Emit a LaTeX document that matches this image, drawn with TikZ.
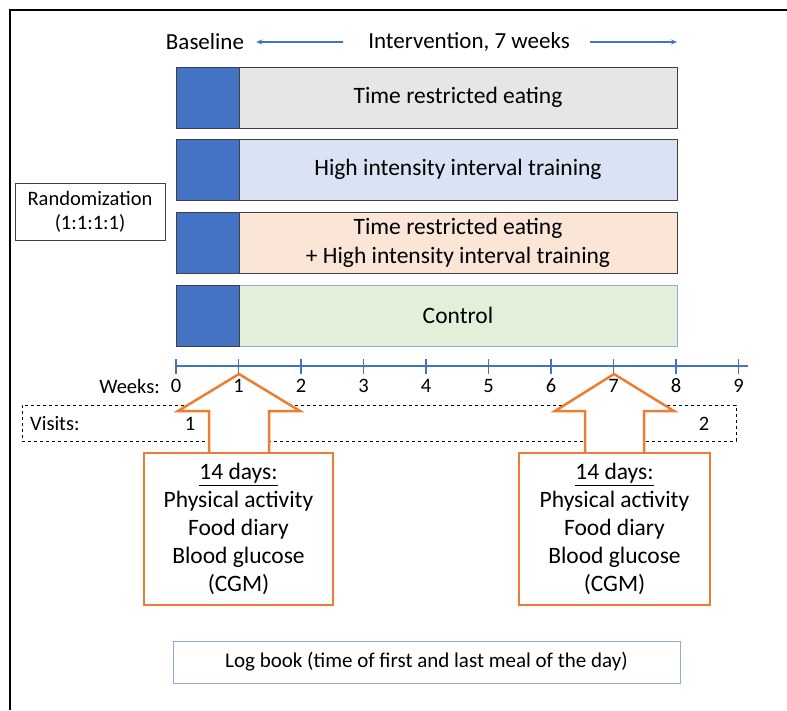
\documentclass[tikz,border=0pt]{standalone}
\usepackage{fontspec}
\setmainfont{Carlito}
\usetikzlibrary{arrows.meta}
\definecolor{accblue}{HTML}{4472C4}
\definecolor{grayfill}{HTML}{E7E6E6}
\definecolor{bluefill}{HTML}{DAE3F3}
\definecolor{peachfill}{HTML}{FBE5D6}
\definecolor{greenfill}{HTML}{E2F0D9}
\definecolor{orng}{HTML}{ED7D31}
\definecolor{lightedge}{HTML}{8FAADC}
\definecolor{darkedge}{HTML}{404040}
\begin{document}
\begin{tikzpicture}[x=1pt,y=-1pt,
  every node/.style={font=\fontsize{23.5}{29}\selectfont, text=black},
  rowbox/.style={draw=darkedge, line width=1pt, minimum width=438pt, minimum height=61pt, anchor=north west, inner sep=0pt, outer sep=0pt, align=center},
  bluesq/.style={draw=darkedge, fill=accblue, line width=1pt, minimum width=63pt, minimum height=61pt, anchor=north east, inner sep=0pt, outer sep=0pt},
  toplabel/.style={inner sep=0pt, font=\fontsize{23}{28}\selectfont},
  bluearrow/.style={draw=accblue, line width=1.2pt, -{Stealth[length=6pt,width=5pt]}},
  orangebox/.style={draw=orng, line width=2.5pt, fill=white, minimum height=152pt, align=center, inner sep=0pt, font=\fontsize{23.5}{28}\selectfont},
  oarrow/.style={draw=orng, line width=2.5pt, fill=white, line join=miter},
  smalltxt/.style={font=\fontsize{20.5}{24}\selectfont, inner sep=0pt}
]
\useasboundingbox (0,0) rectangle (787,710);
\draw[line width=2pt] (10,710) -- (10,10) -- (787,10);

% top labels
\node[toplabel, anchor=center] (base) at (205,42) {Baseline};
\node[toplabel, anchor=center] (interv) at (469,42) {Intervention, 7 weeks};

% rows
\node[rowbox, fill=grayfill] (r1) at (239,67) {Time restricted eating};
\node[rowbox, fill=bluefill] (r2) at (239,139) {High intensity interval training};
\node[rowbox, fill=peachfill] (r3) at (239,212) {Time restricted eating\\+ High intensity interval training};
\node[rowbox, fill=greenfill, draw=lightedge] (r4) at (239,285) {Control};
\node[bluesq] (b1) at (r1.north west) {};
\node[bluesq] (b2) at (r2.north west) {};
\node[bluesq] (b3) at (r3.north west) {};
\node[bluesq] (b4) at (r4.north west) {};

\draw[bluearrow] ([xshift=-25pt]interv.west) -- ([xshift=12pt]base.east);
\draw[bluearrow] ([xshift=20pt]interv.east) -- (interv.east -| r1.east);

% randomization
\node[draw=darkedge, line width=0.8pt, minimum width=150pt, minimum height=57pt, align=center, inner sep=0pt, font=\fontsize{20.5}{24}\selectfont] (rand) at (90,211.5) {Randomization\\(1:1:1:1)};

% timeline
\coordinate (tl0) at (176,366);
\coordinate (tlend) at (748,366);
\draw[accblue, line width=1.6pt] (tl0) -- (tlend);
\foreach \i in {0,...,9} {
  \coordinate (tk\i) at ({176+62.5*\i},366);
  \draw[accblue, line width=1.4pt] ([yshift=-8pt]tk\i) -- ([yshift=7pt]tk\i);
}
\node[smalltxt, anchor=east] (weeks) at (160,386) {Weeks:};

% visits
\node[draw, dashed, line width=0.7pt, minimum width=714pt, minimum height=36pt, inner sep=0pt] (visits) at (379,423) {};
\node[smalltxt, anchor=west] (vlab) at (30,424) {Visits:};
\node[smalltxt] (v1) at (190,424) {1};
\node[smalltxt] (v2) at (704,424) {2};

% measurement boxes
\node[orangebox, minimum width=189pt] (m1) at (238.5,529) {\underline{14 days:}\\Physical activity\\Food diary\\Blood glucose\\(CGM)};
\node[orangebox, minimum width=191pt] (m2) at (614.5,529) {\underline{14 days:}\\Physical activity\\Food diary\\Blood glucose\\(CGM)};

% orange up arrows
\coordinate (t1) at (239,374);
\coordinate (t2) at (614,374);
\draw[oarrow] (m1.north -| 209,0) -- (209,411) -- (178,411) -- (t1) -- (300,411) -- (269,411) -- (m1.north -| 269,0);
\draw[oarrow] (m2.north -| 585,0) -- (585,411) -- (555,411) -- (t2) -- (674,411) -- (644,411) -- (m2.north -| 644,0);

% week numbers on top
\foreach \i in {0,...,9} {
  \node[smalltxt] (wk\i) at ({176+62.5*\i},386) {\i};
}

% log book
\node[draw=lightedge, line width=1pt, minimum width=507pt, minimum height=42pt, inner sep=0pt, font=\fontsize{21}{24}\selectfont] (log) at (426.5,662) {Log book (time of first and last meal of the day)};
\end{tikzpicture}
\end{document}
